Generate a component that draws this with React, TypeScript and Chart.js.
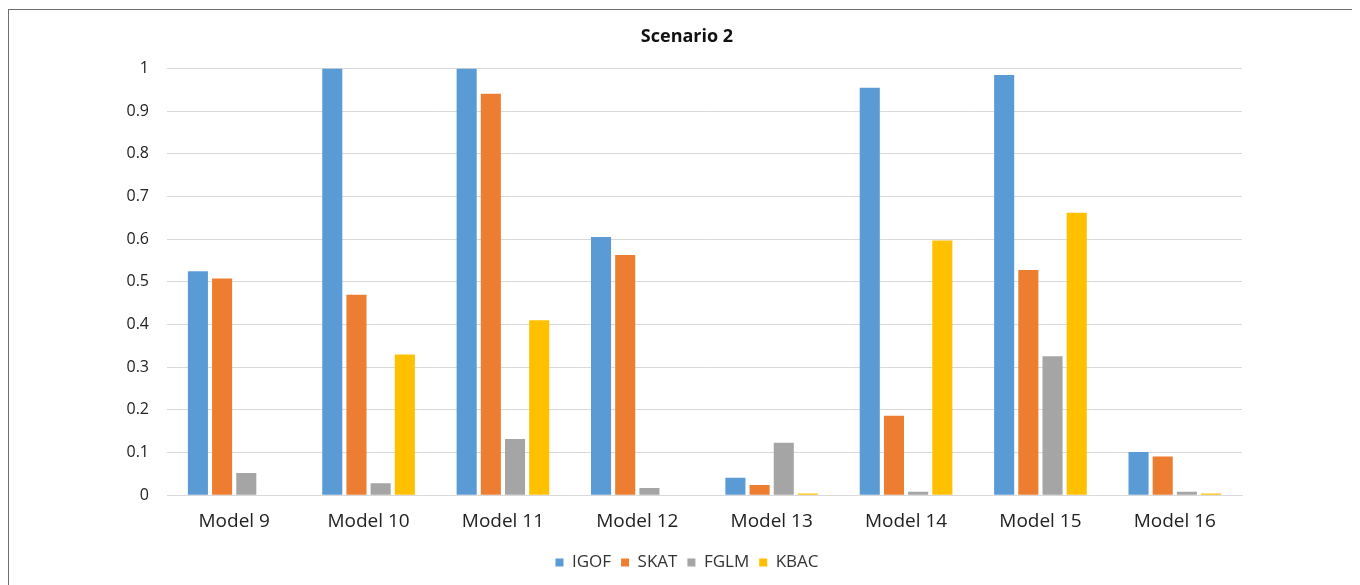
import React, { useEffect, useRef } from "react";
import { Chart, registerables } from "chart.js";

Chart.register(...registerables);

// Power of each test across the Scenario 2 models
const categories = ["Model 9", "Model 10", "Model 11", "Model 12", "Model 13", "Model 14", "Model 15", "Model 16"];
const igof = [0.525, 1.0, 1.0, 0.605, 0.041, 0.955, 0.985, 0.101];
const skat = [0.508, 0.47, 0.941, 0.563, 0.024, 0.186, 0.528, 0.091];
const fglm = [0.052, 0.028, 0.132, 0.017, 0.123, 0.008, 0.326, 0.008];
const kbac = [0, 0.33, 0.41, 0, 0.004, 0.597, 0.662, 0.004];
const yTicks = [0, 0.1, 0.2, 0.3, 0.4, 0.5, 0.6, 0.7, 0.8, 0.9, 1];

const FONT = "'Open Sans', 'Noto Sans', sans-serif";

export default function App() {
  const canvasRef = useRef<HTMLCanvasElement | null>(null);

  useEffect(() => {
    if (!canvasRef.current) return;
    const mk = (label: string, data: number[], color: string) => ({
      label,
      data,
      backgroundColor: color,
      borderWidth: 0,
      barPercentage: 0.83,
      categoryPercentage: 0.72,
    });
    const chart = new Chart(canvasRef.current, {
      type: "bar",
      data: {
        labels: categories,
        datasets: [
          mk("IGOF", igof, "#5b9bd5"),
          mk("SKAT", skat, "#ed7d31"),
          mk("FGLM", fglm, "#a5a5a5"),
          mk("KBAC", kbac, "#ffc000"),
        ],
      },
      options: {
        animation: false,
        responsive: false,
        maintainAspectRatio: false,
        layout: { padding: { left: 10, right: 0, top: 16, bottom: 5 } },
        plugins: {
          title: {
            display: true,
            text: "Scenario 2",
            color: "#111111",
            font: { family: FONT, size: 18, weight: "bold" },
            padding: { top: 0, bottom: 21 },
          },
          legend: {
            position: "bottom",
            labels: {
              boxWidth: 8,
              boxHeight: 8,
              padding: 10,
              color: "#333333",
              font: { family: FONT, size: 17 },
            },
          },
          tooltip: { enabled: false },
        },
        scales: {
          x: {
            grid: { display: false, drawTicks: false },
            border: { color: "#d9d9d9", width: 1 },
            ticks: { color: "#222222", font: { family: FONT, size: 19 }, padding: 15 },
            afterFit: (scale: any) => {
              scale.height -= 4;
            },
          },
          y: {
            min: 0,
            max: 1,
            afterFit: (scale: any) => {
              scale.width = 148;
            },
            afterBuildTicks: (scale: any) => {
              scale.ticks = yTicks.map((v) => ({ value: v }));
            },
            grid: { color: "#d9d9d9", drawTicks: false, lineWidth: 1 },
            border: { display: false },
            ticks: {
              color: "#222222",
              font: { family: FONT, size: 16 },
              padding: 18,
              callback: (v: any) => String(Math.round(Number(v) * 10) / 10),
            },
          },
          // empty right-hand margin so the title and legend stay centred on the frame
          yRight: {
            position: "right",
            min: 0,
            max: 1,
            grid: { display: false, drawTicks: false },
            border: { display: false },
            ticks: { display: false },
            afterFit: (scale: any) => {
              scale.width = 113;
            },
          },
        },
      },
    });
    return () => chart.destroy();
  }, []);

  return (
    <div
      style={{
        position: "relative",
        width: 1346,
        height: 600,
        border: "1px solid #6e6e6e",
        background: "#fff",
        marginTop: 1,
      }}
    >
      <canvas ref={canvasRef} width={1346} height={576} style={{ display: "block" }} />
    </div>
  );
}
